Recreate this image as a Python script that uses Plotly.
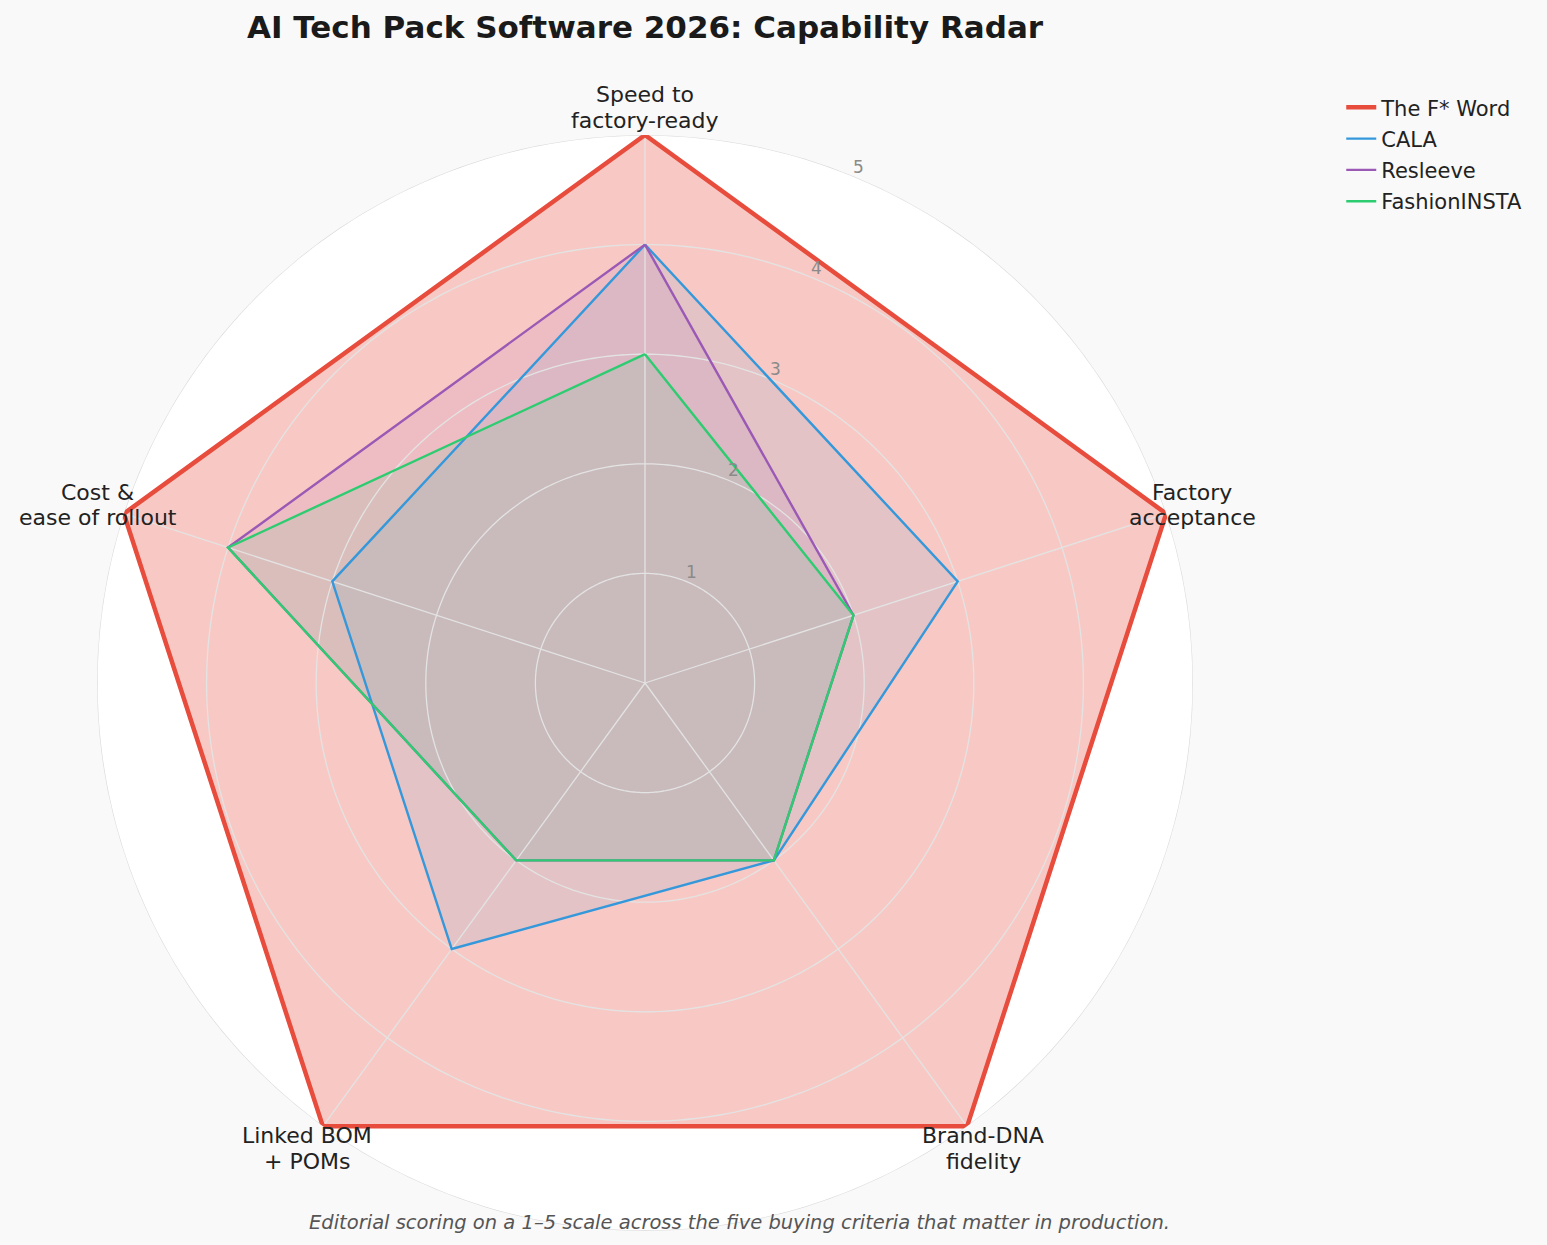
import numpy as np
import plotly.graph_objects as go

# ---- data ----
categories = ["Speed to<br>factory-ready", "Factory<br>acceptance", "Brand-DNA<br>fidelity",
              "Linked BOM<br>+ POMs", "Cost &<br>ease of rollout"]
products = ["The F* Word", "CALA", "Resleeve", "FashionINSTA"]
scores_fword = [5, 5, 5, 5, 5]
scores_cala = [4, 3, 2, 3, 3]
scores_resleeve = [4, 2, 2, 2, 4]
scores_fashioninsta = [3, 2, 2, 2, 4]
radial_ticks = [1, 2, 3, 4, 5]
radial_tick_labels = ["1", "2", "3", "4", "5"]

title_text = "AI Tech Pack Software 2026: Capability Radar"
caption_text = "Editorial scoring on a 1–5 scale across the five buying criteria that matter in production."

# ---- styles ----
series = [
    (products[0], scores_fword, "#e74c3c", 4.5, 0.30),
    (products[1], scores_cala, "#3498db", 2.4, 0.10),
    (products[2], scores_resleeve, "#9b59b6", 2.4, 0.10),
    (products[3], scores_fashioninsta, "#2ecc71", 2.4, 0.10),
]

W, H = 1547, 1245
cx, cy, R = 645, 683, 548
n = len(categories)
angles = [i * 360.0 / n for i in range(n)]
rmax = 5


def rgba(hexc, a):
    h = hexc.lstrip("#")
    return "rgba(%d,%d,%d,%.3f)" % (int(h[0:2], 16), int(h[2:4], 16), int(h[4:6], 16), a)


def polar_to_paper(r, theta_deg):
    # clockwise from top, same geometry as the polar subplot below
    rad = np.deg2rad(theta_deg)
    px = cx + r / rmax * R * np.sin(rad)
    py = cy - r / rmax * R * np.cos(rad)
    return px, py


fig = go.Figure()

# fills
for name, vals, col, lw, alpha in series:
    fig.add_trace(go.Scatterpolar(
        r=vals + vals[:1], theta=angles + angles[:1], mode="lines",
        fill="toself", fillcolor=rgba(col, alpha), line=dict(width=0, color=col),
        showlegend=False, hoverinfo="skip"))

# grid (drawn above fills)
ring_theta = list(np.arange(0, 361, 1.0))
grid_col = "#e3e3e3"
for t in radial_ticks:
    fig.add_trace(go.Scatterpolar(r=[t] * len(ring_theta), theta=ring_theta, mode="lines",
                                  line=dict(color="#d9d9d9" if t == rmax else grid_col, width=1.3),
                                  showlegend=False, hoverinfo="skip"))
for a in angles:
    fig.add_trace(go.Scatterpolar(r=[0, rmax], theta=[a, a], mode="lines",
                                  line=dict(color=grid_col, width=1.3), showlegend=False,
                                  hoverinfo="skip"))

# lines
for i, (name, vals, col, lw, alpha) in enumerate(series):
    fig.add_trace(go.Scatterpolar(
        r=vals + vals[:1], theta=angles + angles[:1], mode="lines",
        line=dict(color=col, width=lw), name=name, legendgroup=name))

annotations = []
# radial tick labels
for t, lab in zip(radial_ticks, radial_tick_labels):
    px, py = polar_to_paper(t + 0.1, 22.5)
    annotations.append(dict(text=lab, x=px / W, y=1 - py / H, xref="paper", yref="paper",
                            xanchor="center", yanchor="middle", showarrow=False,
                            font=dict(family="DejaVu Sans", size=17, color="#8a8a8a")))
# category labels (two lines each, matplotlib-like line spacing)
line_gap = 25.5
for a, lab in zip(angles, categories):
    px, py = polar_to_paper(5.25, a)
    lines = lab.split("<br>")
    k = len(lines)
    for j, ln in enumerate(lines):
        ly = py + (j - (k - 1) / 2) * line_gap
        annotations.append(dict(text=ln, x=px / W, y=1 - ly / H, xref="paper", yref="paper",
                                xanchor="center", yanchor="middle", showarrow=False,
                                font=dict(family="DejaVu Sans", size=22, color="#222222")))

annotations.append(dict(text="<b>" + title_text + "</b>", x=cx / W, y=1 - 27 / H,
                        xref="paper", yref="paper", xanchor="center", yanchor="middle",
                        showarrow=False,
                        font=dict(family="DejaVu Sans", size=31, color="#1a1a1a")))
annotations.append(dict(text="<i>" + caption_text + "</i>", x=739 / W, y=1 - 1222 / H,
                        xref="paper", yref="paper", xanchor="center", yanchor="middle",
                        showarrow=False,
                        font=dict(family="DejaVu Sans", size=19.5, color="#555555")))

fig.update_layout(
    width=W, height=H,
    margin=dict(l=0, r=0, t=0, b=0),
    paper_bgcolor="#f9f9f9",
    font=dict(family="DejaVu Sans", color="#222222"),
    polar=dict(
        domain=dict(x=[(cx - R) / W, (cx + R) / W], y=[1 - (cy + R) / H, 1 - (cy - R) / H]),
        bgcolor="white",
        angularaxis=dict(rotation=90, direction="clockwise", showgrid=False, showline=False,
                         showticklabels=False, ticks="", tickvals=angles),
        radialaxis=dict(range=[0, rmax], showgrid=False, showline=False, showticklabels=False,
                        ticks="", tickvals=radial_ticks),
    ),
    legend=dict(x=0.867, y=0.930, xanchor="left", yanchor="top", bgcolor="rgba(0,0,0,0)",
                font=dict(family="DejaVu Sans", size=21, color="#222222"), tracegroupgap=1),
    annotations=annotations,
)

fig.write_html("out.html")
